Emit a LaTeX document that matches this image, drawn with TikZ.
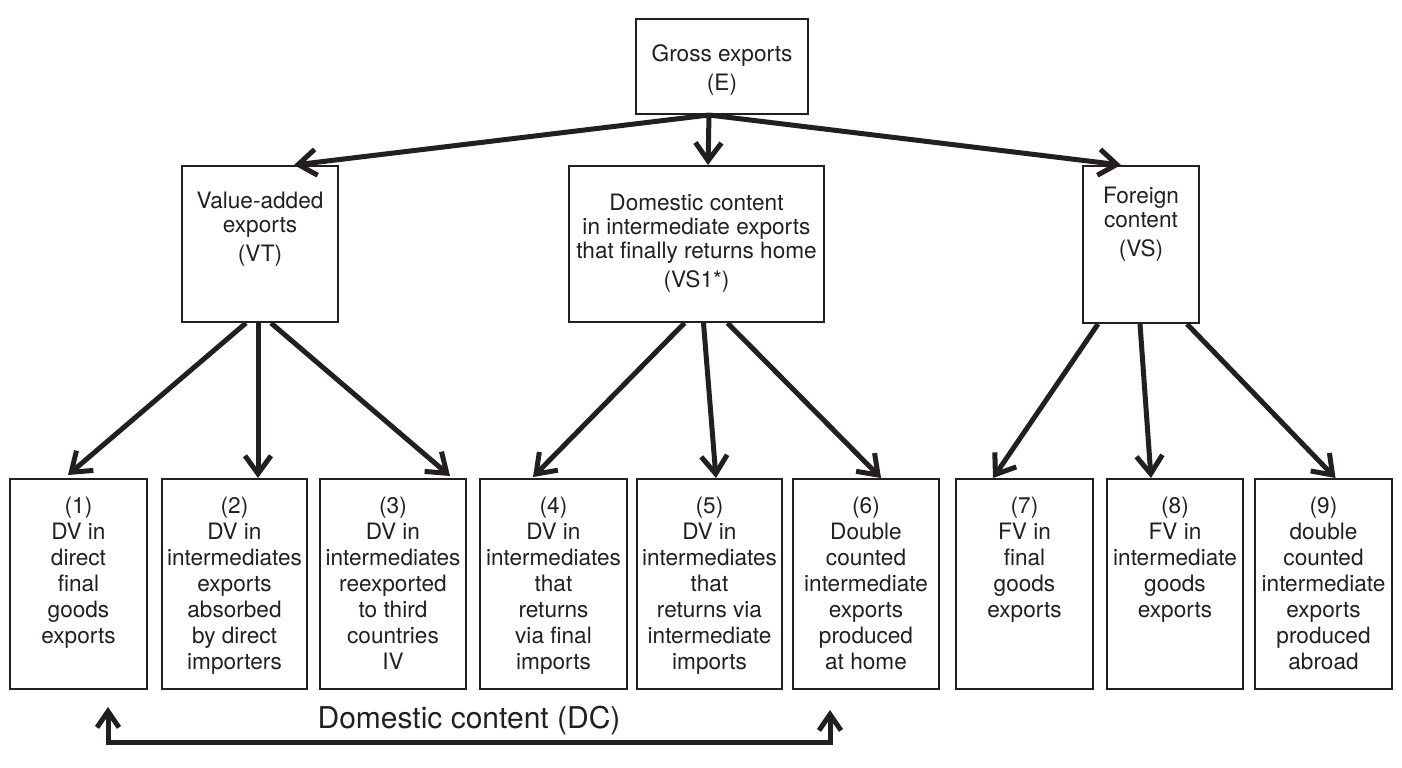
\documentclass[tikz,border=0pt]{standalone}
\usepackage{fontspec}
\setmainfont{TeX Gyre Heros}
\usetikzlibrary{arrows.meta,calc}
\definecolor{ink}{RGB}{35,31,32}
\begin{document}
\begin{tikzpicture}[x=0.5pt,y=-0.5pt,
  box/.style={draw=ink, line width=1pt, inner sep=0pt, anchor=north west},
  txt/.style={anchor=north, inner sep=0pt, align=center, text=ink, font=\fontsize{11.3}{12}\selectfont},
  btxt/.style={txt, font=\fontsize{11.3}{13}\selectfont},
  arr/.style={draw=ink, line width=2.5pt, -{Straight Barb[length=9pt,width=13pt]}},
  dcarr/.style={draw=ink, line width=2.5pt, line join=miter, {Straight Barb[length=8pt,width=11pt]}-{Straight Barb[length=8pt,width=11pt]}},
]
\useasboundingbox (0,0) rectangle (1402,767);

% top level
\node[box, minimum width=86pt, minimum height=47.5pt] (E) at (635,18) {};
\node[txt] (Et) at ($(E.north)+(0,26)$) {Gross exports\\[2.5pt](E)};

% second level
\node[box, minimum width=78pt, minimum height=78pt] (VT) at (181,165) {};
\node[txt] (VTt) at ($(VT.north)+(0,27)$) {Value-added\\exports\\[2.5pt](VT)};
\node[box, minimum width=127.5pt, minimum height=78pt] (MID) at (568,165) {};
\node[txt] (MIDt) at ($(MID.north)+(0,29)$) {Domestic content\\in intermediate exports\\that finally returns home\\[2.5pt](VS1*)};
\node[box, minimum width=58pt, minimum height=78.5pt] (VS) at (1082,165) {};
\node[txt] (VSt) at ($(VS.north)+(0,22)$) {Foreign\\content\\[2.5pt](VS)};

% bottom level
\node[box, minimum width=68.5pt, minimum height=105pt] (b1) at (9,478) {};
\node[box, minimum width=72.5pt, minimum height=105pt] (b2) at (161,478) {};
\node[box, minimum width=73pt, minimum height=105pt] (b3) at (319,478) {};
\node[box, minimum width=73.5pt, minimum height=105pt] (b4) at (479,478) {};
\node[box, minimum width=72.5pt, minimum height=105pt] (b5) at (636,478) {};
\node[box, minimum width=73pt, minimum height=105pt] (b6) at (792,478) {};
\node[box, minimum width=68.5pt, minimum height=105pt] (b7) at (955,478) {};
\node[box, minimum width=68pt, minimum height=105pt] (b8) at (1106,478) {};
\node[box, minimum width=68.5pt, minimum height=105pt] (b9) at (1254,478) {};

\node[btxt] (t1) at ($(b1.north)+(0,19)$) {(1)\\DV in\\direct\\final\\goods\\exports};
\node[btxt] (t2) at ($(b2.north)+(0,19)$) {(2)\\DV in\\intermediates\\exports\\absorbed\\by direct\\importers};
\node[btxt] (t3) at ($(b3.north)+(0,19)$) {(3)\\DV in\\intermediates\\reexported\\to third\\countries\\IV};
\node[btxt] (t4) at ($(b4.north)+(0,19)$) {(4)\\DV in\\intermediates\\that\\returns\\via final\\imports};
\node[btxt] (t5) at ($(b5.north)+(0,19)$) {(5)\\DV in\\intermediates\\that\\returns via\\intermediate\\imports};
\node[btxt] (t6) at ($(b6.north)+(0,19)$) {(6)\\Double\\counted\\intermediate\\exports\\produced\\at home};
\node[btxt] (t7) at ($(b7.north)+(0,19)$) {(7)\\FV in\\final\\goods\\exports};
\node[btxt] (t8) at ($(b8.north)+(0,19)$) {(8)\\FV in\\intermediate\\goods\\exports};
\node[btxt] (t9) at ($(b9.north)+(0,19)$) {(9)\\double\\counted\\intermediate\\exports\\produced\\abroad};

% arrows from top
\draw[arr] ($(E.south)+(-13,0)$) -- ($(VT.north)+(34,0)$);
\draw[arr] ($(E.south)+(-13,0)$) -- ($(MID.north)+(11.5,0)$);
\draw[arr] ($(E.south)+(-13,0)$) -- ($(VS.north)+(-20,0)$);

% arrows from VT
\draw[arr] ($(VT.south)+(-14,0)$) -- ($(b1.north)+(-10.5,-3)$);
\draw[arr] ($(VT.south)+(-2,0)$) -- ($(b2.north)+(23.5,0)$);
\draw[arr] ($(VT.south)+(11,0)$) -- ($(b3.north)+(57,-2)$);

% arrows from MID
\draw[arr] ($(MID.south)+(-12,0)$) -- ($(b4.north)+(-20.5,-1)$);
\draw[arr] ($(MID.south)+(7,0)$) -- ($(b5.north)+(6.5,0)$);
\draw[arr] ($(MID.south)+(31,0)$) -- ($(b6.north)+(15,0)$);

% arrows from VS
\draw[arr] ($(VS.south)+(-43,0)$) -- ($(b7.north)+(-31.5,0)$);
\draw[arr] ($(VS.south)+(-1,0)$) -- ($(b8.north)+(-24,0)$);
\draw[arr] ($(VS.south)+(46,0)$) -- ($(b9.north)+(12,0)$);

% domestic content bracket
\coordinate (dcL) at ($(b1.south)+(29.5,17)$);
\coordinate (dcR) at ($(b6.south)+(-36,20)$);
\draw[dcarr] (dcL) -- ($(dcL)+(0,35)$) -| (dcR);
\node[inner sep=0pt, text=ink, font=\fontsize{15}{18}\selectfont] (dclab) at ($(dcL)!0.5!(dcR)+(0,12)$) {Domestic content (DC)};
\end{tikzpicture}
\end{document}
